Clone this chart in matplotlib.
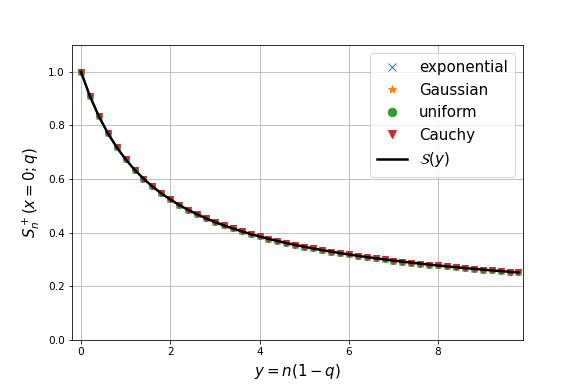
import numpy as np
import matplotlib
matplotlib.use("Agg")
import matplotlib.pyplot as plt

# y = n(1-q) grid where the walks were sampled
y_vals = [0.0, 0.2, 0.4, 0.6, 0.8, 1.0, 1.2, 1.4, 1.6, 1.8,
          2.0, 2.2, 2.4, 2.6, 2.8, 3.0, 3.2, 3.4, 3.6, 3.8,
          4.0, 4.2, 4.4, 4.6, 4.8, 5.0, 5.2, 5.4, 5.6, 5.8,
          6.0, 6.2, 6.4, 6.6, 6.8, 7.0, 7.2, 7.4, 7.6, 7.8,
          8.0, 8.2, 8.4, 8.6, 8.8, 9.0, 9.2, 9.4, 9.6, 9.8]

# scaling function S(y)
s_curve = [1.0000, 0.9092, 0.8342, 0.7715, 0.7186, 0.6737, 0.6350, 0.6016, 0.5723, 0.5466,
           0.5238, 0.5034, 0.4851, 0.4685, 0.4535, 0.4398, 0.4273, 0.4157, 0.4050, 0.3950,
           0.3858, 0.3771, 0.3690, 0.3614, 0.3543, 0.3475, 0.3411, 0.3351, 0.3294, 0.3239,
           0.3187, 0.3138, 0.3090, 0.3045, 0.3002, 0.2960, 0.2920, 0.2882, 0.2845, 0.2810,
           0.2776, 0.2743, 0.2711, 0.2680, 0.2651, 0.2622, 0.2594, 0.2567, 0.2541, 0.2516]

# simulated survival probabilities (all jump distributions collapse on S(y))
s_exponential = s_curve
s_gaussian = s_curve
s_uniform = s_curve
s_cauchy = s_curve

dpi = 72
fig = plt.figure(figsize=(581 / dpi, 388 / dpi), dpi=dpi)
ax = fig.add_subplot(1, 1, 1)
fig.subplots_adjust(left=0.124, right=0.9, bottom=0.124, top=0.884)

ms = 6
ax.plot(y_vals, s_exponential, 'x', color='C0', ms=ms, label='exponential')
ax.plot(y_vals, s_gaussian, '*', color='C1', ms=ms, label='Gaussian')
ax.plot(y_vals, s_uniform, 'o', color='C2', ms=ms, label='uniform')
ax.plot(y_vals, s_cauchy, 'v', color='C3', ms=ms, label='Cauchy')
ax.plot(y_vals, s_curve, '-', color='k', lw=2.5, label=r'$\mathcal{S}(y)$')

ax.set_xlim(-0.2, 9.9)
ax.set_ylim(0, 1.1)
ax.set_xticks([0, 2, 4, 6, 8])
ax.set_yticks([0.0, 0.2, 0.4, 0.6, 0.8, 1.0])
ax.tick_params(labelsize=10.5)
ax.grid(True, color='#c0c0c0', lw=1.0)
ax.set_xlabel(r'$y=n(1-q)$', fontsize=15, labelpad=5)
ax.set_ylabel(r'$S_n^+(x=0;q)$', fontsize=15, labelpad=6)
ax.legend(loc='upper right', fontsize=15, markerscale=1.4, borderpad=0.5)

fig.savefig("out.png", dpi=dpi)
